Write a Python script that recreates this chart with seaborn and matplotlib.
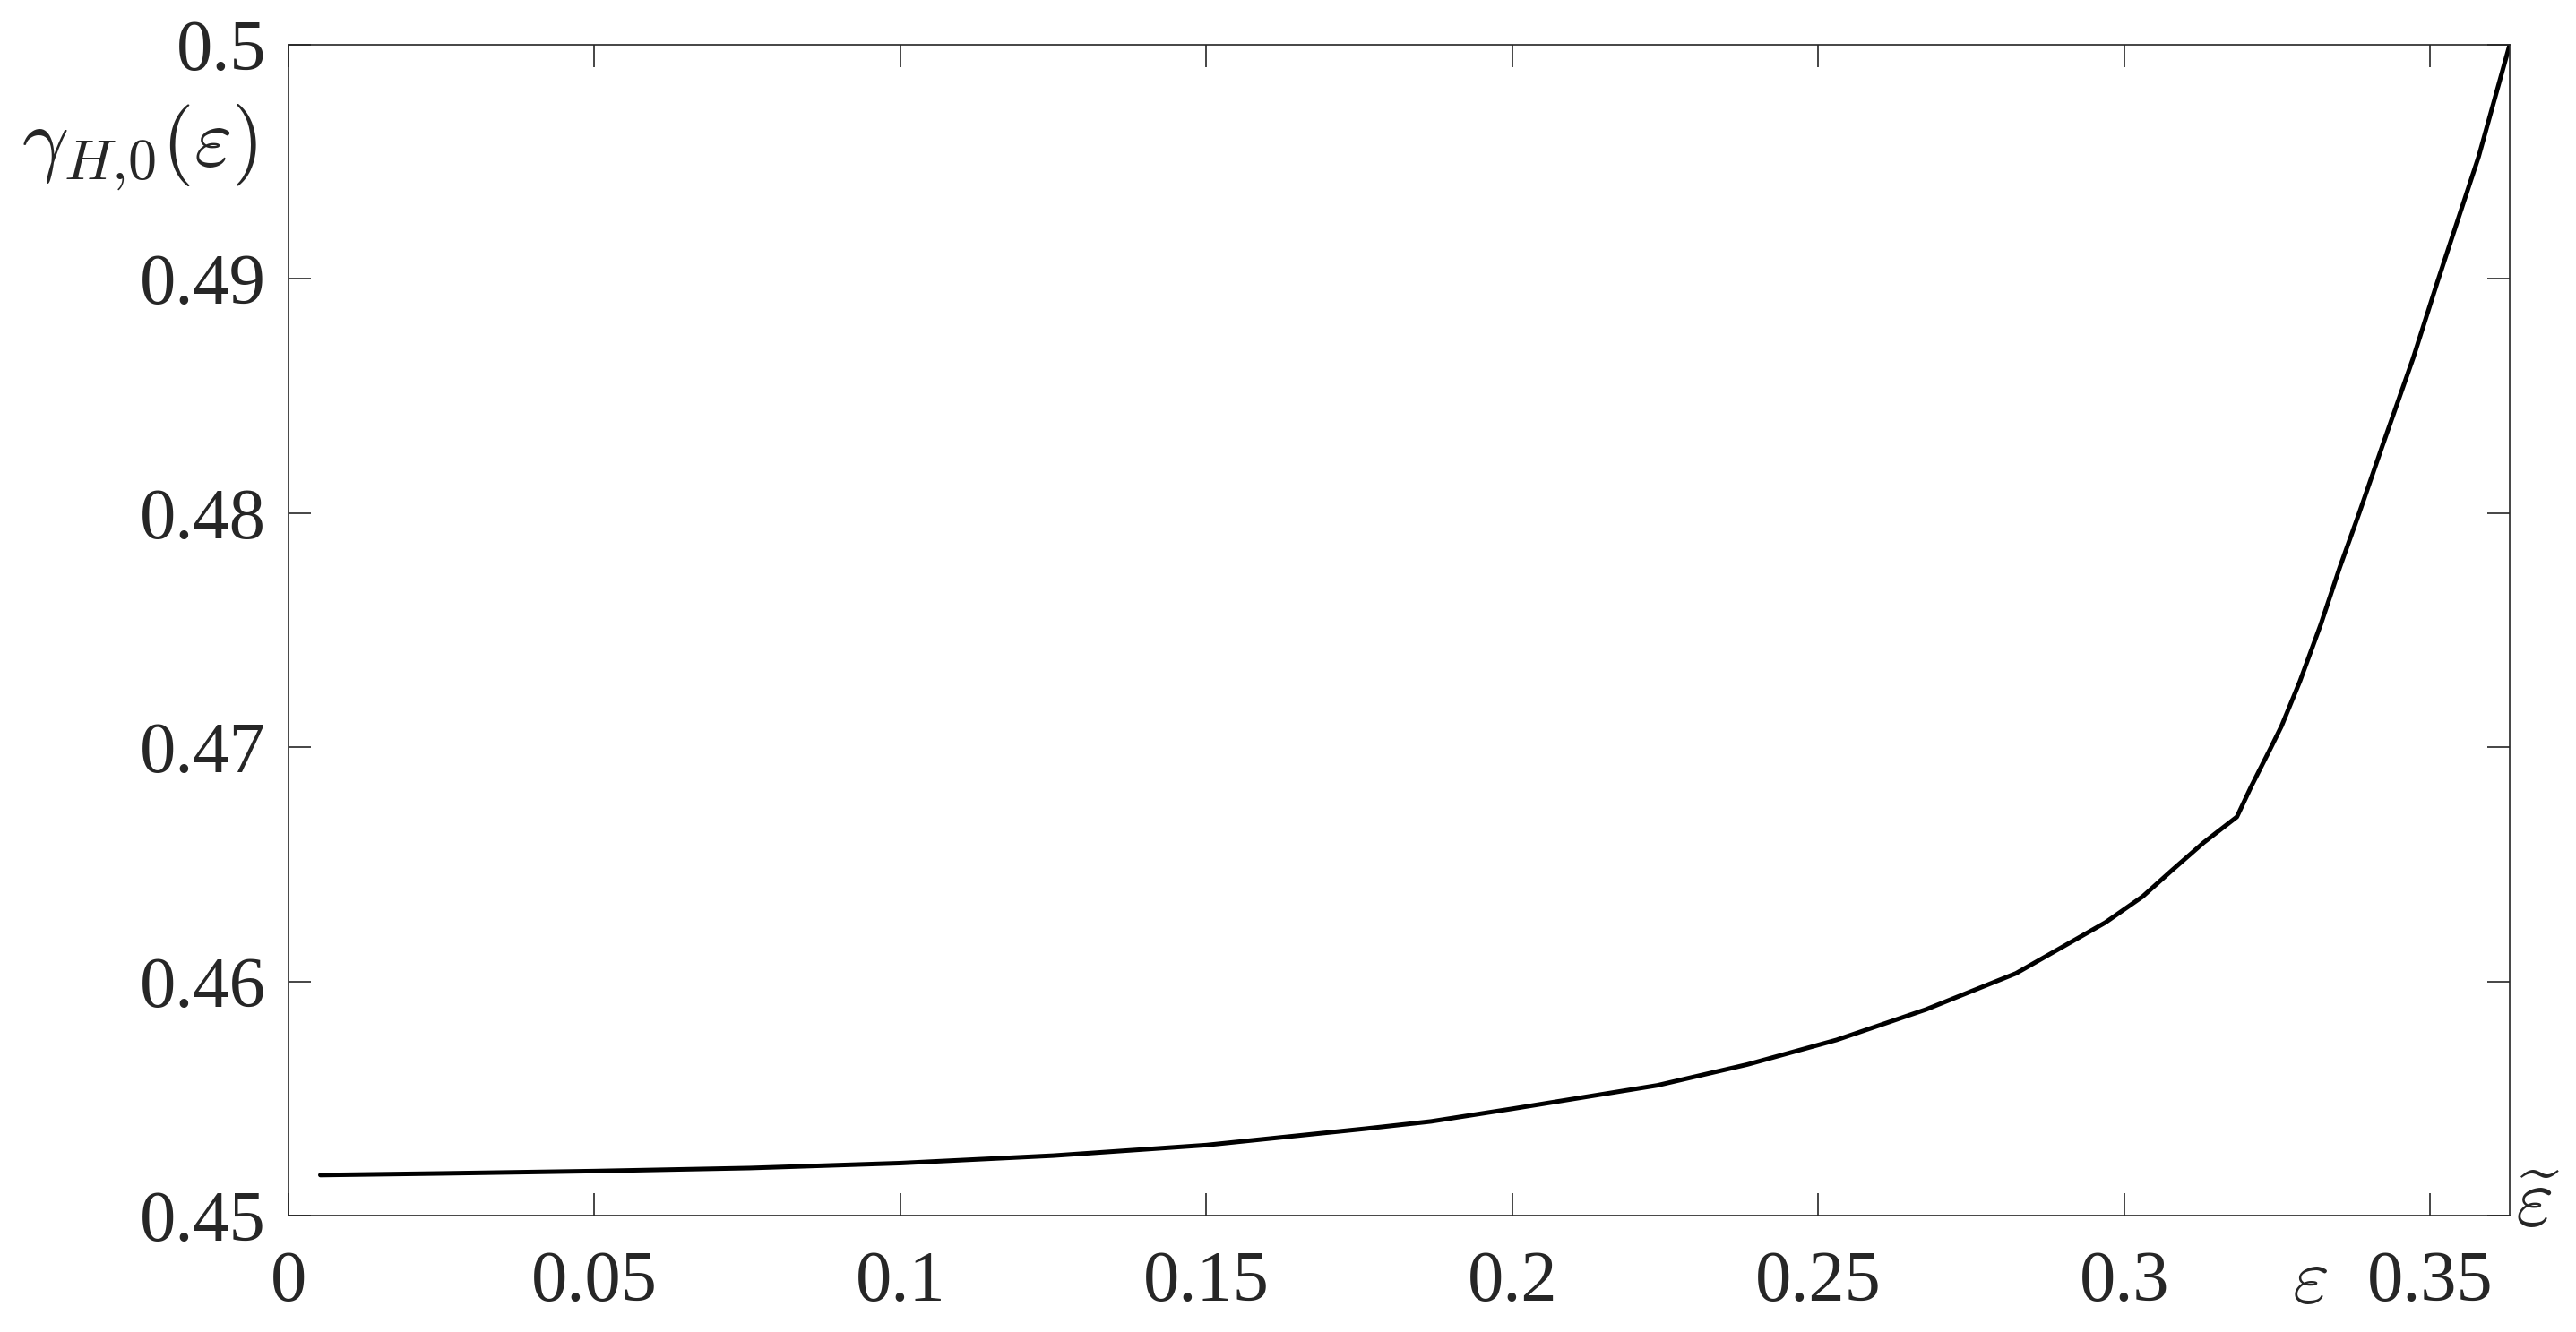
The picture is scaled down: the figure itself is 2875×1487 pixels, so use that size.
import numpy as np
import pandas as pd
import matplotlib
matplotlib.use("Agg")
import matplotlib.pyplot as plt
import seaborn as sns

# ---- data ----
eps = [0.0052, 0.025, 0.05, 0.0754, 0.1, 0.125, 0.15, 0.176, 0.1867, 0.2,
       0.2237, 0.2384, 0.2530, 0.2676, 0.2823, 0.2969, 0.3030, 0.3077,
       0.3130, 0.3184, 0.3208, 0.3240, 0.3257, 0.3287, 0.3321, 0.3352,
       0.3384, 0.3421, 0.3472, 0.3511, 0.3579, 0.3630]
gamma = [0.45173, 0.45180, 0.45190, 0.45203, 0.45224, 0.45256, 0.45301,
         0.45371, 0.45402, 0.45456, 0.45556, 0.45645, 0.45750, 0.45880,
         0.46034, 0.46251, 0.46362, 0.46472, 0.46593, 0.46702, 0.46835,
         0.47000, 0.47090, 0.47281, 0.47523, 0.47766, 0.48000, 0.48280,
         0.48660, 0.48980, 0.49520, 0.50000]
x_ticks = [0, 0.05, 0.1, 0.15, 0.2, 0.25, 0.3, 0.35]
x_ticklabels = ["0", "0.05", "0.1", "0.15", "0.2", "0.25", "0.3", "0.35"]
y_ticks = [0.45, 0.46, 0.47, 0.48, 0.49, 0.5]
y_ticklabels = ["0.45", "0.46", "0.47", "0.48", "0.49", "0.5"]
eps_tilde = 0.3630

df = pd.DataFrame({"eps": eps, "gamma": gamma})

sns.set_theme(style="white")
plt.rcParams["font.family"] = ["Liberation Serif", "DejaVu Serif"]
plt.rcParams["mathtext.fontset"] = "cm"

fig = plt.figure(figsize=(28.75, 14.87), dpi=100)
ax = fig.add_axes([0.1120, 0.0874, 0.8623, 0.8793])

sns.lineplot(data=df, x="eps", y="gamma", ax=ax, color="black",
             linewidth=3.6, estimator=None, sort=False)
ax.lines[0].set_solid_joinstyle("round")

ax.set_xlim(0, eps_tilde)
ax.set_ylim(0.45, 0.5)
ax.set_xticks(x_ticks)
ax.set_xticklabels(x_ticklabels)
ax.set_yticks(y_ticks)
ax.set_yticklabels(y_ticklabels)
ax.set_xlabel("")
ax.set_ylabel("")

tick_color = "#262626"
ax.tick_params(axis="both", which="major", direction="in", length=18,
               width=1.2, color=tick_color, labelcolor=tick_color,
               labelsize=58, top=True, right=True, bottom=True, left=True)
ax.tick_params(axis="x", pad=28)
ax.tick_params(axis="y", pad=18)
for s in ax.spines.values():
    s.set_visible(True)
    s.set_color(tick_color)
    s.set_linewidth(1.2)

# axis annotations
ax.text(-0.067, 0.912, r"$\gamma_{H{,}0}(\varepsilon)$", transform=ax.transAxes,
        fontsize=66, ha="center", va="center", color=tick_color)
ax.text(0.910, -0.058, r"$\varepsilon$", transform=ax.transAxes,
        fontsize=64, ha="center", va="center", color=tick_color)
ax.text(1.0125, 0.008, r"$\widetilde{\varepsilon}$", transform=ax.transAxes,
        fontsize=66, ha="center", va="center", color=tick_color)

fig.savefig("out.png", dpi=100, facecolor="white")
